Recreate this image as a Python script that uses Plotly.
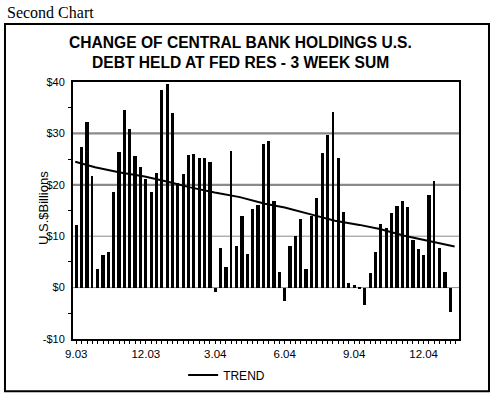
import plotly.graph_objects as go

# ---- data ----
weeks = list(range(71))
change = [12.2, 27.4, 32.2, 21.7, 3.6, 6.4, 6.9, 18.6, 26.4, 34.5, 30.8, 25.6, 23.4, 21.2, 18.6, 22.3, 38.4, 39.7,
          34.0, 20.3, 22.1, 25.8, 25.9, 25.2, 25.2, 24.4, -0.8, 7.7, 4.0, 26.5, 8.1, 14.0, 6.6, 15.3, 16.1, 27.9,
          28.5, 16.8, 3.1, -2.7, 8.1, 10.1, 13.3, 3.6, 13.9, 17.5, 26.2, 29.7, 34.2, 25.2, 14.8, 0.8, 0.5,
          -0.2, -3.4, 2.9, 6.9, 12.4, 11.6, 14.6, 15.9, 16.8, 15.7, 9.3, 7.6, 6.4, 18.1, 20.7, 7.7, 3.1, -4.8]
thin_weeks = [3, 29, 48, 67]
trend_weeks = [-0.2, 3.5, 8.2, 12.8, 17.5, 21.3, 25.9, 30.6, 35.3, 39.0, 43.7, 48.4, 53.0, 56.8, 61.4, 66.1, 70.8]
trend_values = [24.5, 23.4, 22.4, 21.6, 20.5, 19.5, 18.5, 17.6, 16.3, 15.6, 14.3, 13.0, 12.2, 11.4, 10.1, 9.1, 8.0]
tick_weeks = [0, 13, 26, 39, 52, 65]
tick_labels = ["9.03", "12.03", "3.04", "6.04", "9.04", "12.04"]
y_ticks = [40, 30, 20, 10, 0, -10]
y_labels = ["$40", "$30", "$20", "$10", "$0", "-$10"]
y_half_ticks = [35, 25, 15, 5, -5]
grid_heavy = [30, 20]
grid_light = [10, 0]

SANS = "Liberation Sans, Arial, Helvetica, sans-serif"
SERIF = "Liberation Serif, Times New Roman, serif"

widths = [0.22 if w in thin_weeks else 0.6 for w in weeks]

fig = go.Figure()
fig.add_bar(x=weeks, y=change, width=widths, marker=dict(color="black", line=dict(width=0)),
            showlegend=False, hoverinfo="x+y")
fig.add_scatter(x=trend_weeks, y=trend_values, mode="lines", name="TREND",
                line=dict(color="black", width=2))

xr = [-0.62, 71.62]
yr = [-10, 40]

fig.update_layout(
    width=494, height=397,
    margin=dict(l=73, r=35, t=81.5, b=57.5, pad=0, autoexpand=False),
    paper_bgcolor="white", plot_bgcolor="white",
    font=dict(family=SANS, color="black", size=11),
    bargap=0,
    xaxis=dict(range=xr, tickmode="array", tickvals=tick_weeks, ticktext=tick_labels,
               ticks="outside", ticklen=3, tickwidth=1.3, tickcolor="black",
               minor=dict(dtick=1, tick0=0, ticks="outside", ticklen=3, tickwidth=1.3, tickcolor="black"),
               showline=True, linecolor="black", linewidth=2, mirror=True, automargin=False,
               showgrid=False, zeroline=False, tickfont=dict(size=11.5), ticklabelstandoff=0),
    xaxis2=dict(range=xr, overlaying="x", anchor="y", side="bottom", tickmode="linear", dtick=1, tick0=0,
                ticks="inside", ticklen=3, tickwidth=1.3, tickcolor="black", showticklabels=False,
                showline=False, showgrid=False, zeroline=False),
    yaxis=dict(range=yr, tickmode="array", tickvals=y_ticks, ticktext=y_labels, ticks="",
               minor=dict(tickmode="array", tickvals=y_half_ticks, ticks="outside", ticklen=3,
                          tickwidth=1.3, tickcolor="black"),
               showline=True, linecolor="black", linewidth=2, mirror=True, automargin=False,
               showgrid=False, zeroline=False, tickfont=dict(size=11), ticklabelstandoff=4),
    yaxis2=dict(range=yr, overlaying="y", anchor="x", side="left", tickmode="array", tickvals=y_half_ticks,
                ticks="inside", ticklen=3, tickwidth=1.3, tickcolor="black", showticklabels=False,
                showline=False, showgrid=False, zeroline=False),
    legend=dict(orientation="h", x=0.398, xanchor="center", yref="container", y=0.0554, yanchor="middle",
                font=dict(size=12), bgcolor="rgba(0,0,0,0)"),
)

shapes = []
for g in grid_heavy:
    shapes.append(dict(type="line", xref="paper", yref="y", x0=0, x1=1, y0=g, y1=g,
                       line=dict(color="#8a8a8a", width=2.2), layer="below"))
for g in grid_light:
    shapes.append(dict(type="line", xref="paper", yref="y", x0=0, x1=1, y0=g, y1=g,
                       line=dict(color="#8a8a8a", width=1), layer="below"))
# outer frame
shapes.append(dict(type="rect", xref="paper", yref="paper", x0=-0.1762, x1=1.0777, y0=-0.2035, y1=1.226,
                   line=dict(color="black", width=2)))
fig.update_layout(shapes=shapes)

fig.add_annotation(text="Second Chart", xref="paper", yref="paper", x=-0.1762, y=1.269,
                   xanchor="left", yanchor="middle", showarrow=False,
                   font=dict(family=SERIF, size=16, color="black"))
fig.add_annotation(text="CHANGE OF CENTRAL BANK HOLDINGS U.S.", xref="paper", yref="paper",
                   x=0.435, y=1.1531, xanchor="center", yanchor="middle", showarrow=False,
                   font=dict(family=SANS, size=15.6, color="black", weight="bold"))
fig.add_annotation(text="DEBT HELD AT FED RES - 3 WEEK SUM", xref="paper", yref="paper",
                   x=0.435, y=1.0756, xanchor="center", yanchor="middle", showarrow=False,
                   font=dict(family=SANS, size=15.6, color="black", weight="bold"))
fig.add_annotation(text="U.S.$Billions", xref="paper", yref="paper", x=-0.0777, y=0.5097,
                   xanchor="center", yanchor="middle", textangle=-90, showarrow=False,
                   font=dict(family=SANS, size=13, color="black"))

# remove the browser's default 8px page margin so the figure sits at the window origin
fig.write_html("out.html", config={"displayModeBar": False},
               post_script="document.body.style.margin='0px';")
